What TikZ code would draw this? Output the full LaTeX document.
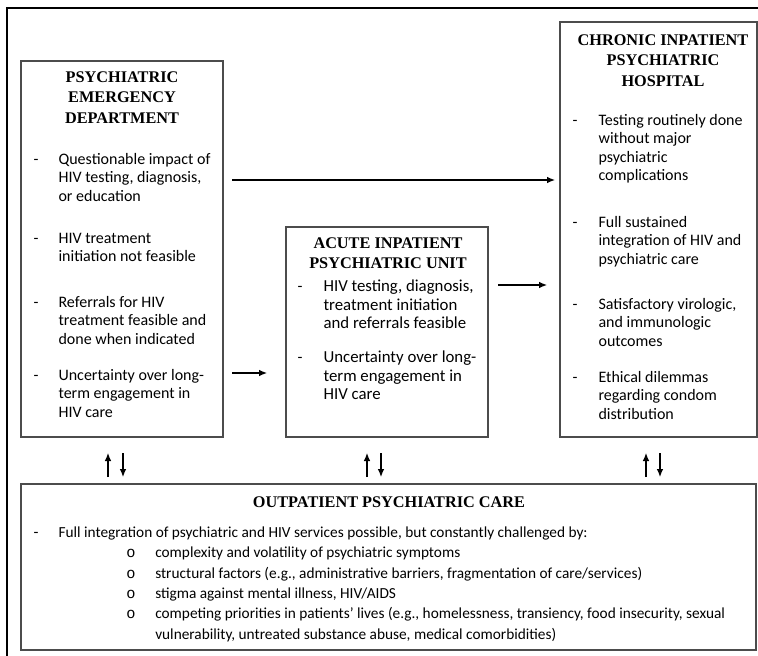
\documentclass[tikz,border=0pt]{standalone}
\usepackage{fontspec}
\setmainfont{Liberation Serif}
\newfontfamily\bodyfam{Carlito}
\newfontfamily\monofam{Liberation Mono}
\usetikzlibrary{arrows.meta}
\newcommand\mylines[1]{\begin{tabular}[t]{@{}l@{}}#1\end{tabular}}
\newcommand\myhead[1]{\begin{tabular}[t]{@{}c@{}}#1\end{tabular}}
\tikzset{
  box/.style={draw=black!70, line width=1pt, inner sep=0pt, outer sep=0pt, anchor=north west},
  hd/.style={font=\fontsize{12.2}{15.4}\selectfont\bfseries, anchor=base, inner sep=0pt},
  txt/.style={font=\bodyfam\fontsize{12}{13.8}\selectfont, anchor=base west, inner sep=0pt},
  txta/.style={font=\bodyfam\fontsize{12.6}{13.8}\selectfont, anchor=base west, inner sep=0pt},
  txto/.style={font=\bodyfam\fontsize{11.5}{15.3}\selectfont, anchor=base west, inner sep=0pt},
  dsh/.style={font=\bodyfam\fontsize{12}{13.8}\selectfont, anchor=base, inner sep=0pt},
  circ/.style={font=\monofam\fontsize{11.5}{15.3}\selectfont, anchor=base, inner sep=0pt},
  arr/.style={line width=0.9pt, -{Latex[length=6pt,width=5pt]}},
  framel/.style={line width=1.1pt}
}
\begin{document}
\begin{tikzpicture}[x=0.75pt,y=-0.75pt]
\useasboundingbox (0,0) rectangle (758,656);
% outer frame (cropped)
\draw[framel] (7,656) -- (7,8) -- (758,8);

% boxes
\node[box, minimum width=151.5pt, minimum height=282pt] (ed) at (21,61) {};
\node[box, minimum width=151.5pt, minimum height=157.5pt] (ac) at (286,227) {};
\node[box, minimum width=147.75pt, minimum height=311.25pt] (ch) at (560,22) {};
\node[box, minimum width=551.25pt, minimum height=124.5pt] (op) at (21,484) {};

% Emergency department
\node[hd] (edh) at (122,82.3) {\myhead{PSYCHIATRIC\\EMERGENCY\\DEPARTMENT}};
\node[dsh] (edd1) at (36,164.5) {-};
\node[txt] (edt1) at (58.3,164.5) {\mylines{Questionable impact of\\HIV testing, diagnosis,\\or education}};
\node[dsh] (edd2) at (36,243.5) {-};
\node[txt] (edt2) at (58.3,243.5) {\mylines{HIV treatment\\initiation not feasible}};
\node[dsh] (edd3) at (36,307.5) {-};
\node[txt] (edt3) at (58.3,307.5) {\mylines{Referrals for HIV\\treatment feasible and\\done when indicated}};
\node[dsh] (edd4) at (36,380.5) {-};
\node[txt] (edt4) at (58.3,380.5) {\mylines{Uncertainty over long-\\term engagement in\\HIV care}};

% Acute inpatient
\node[hd] (ach) at (388,248.3) {\myhead{ACUTE INPATIENT\\PSYCHIATRIC UNIT}};
\node[dsh] (acd1) at (300,292) {-};
\node[txta] (act1) at (323.3,292) {\mylines{HIV testing, diagnosis,\\treatment initiation\\and referrals feasible}};
\node[dsh] (acd2) at (300,363) {-};
\node[txta] (act2) at (323.3,363) {\mylines{Uncertainty over long-\\term engagement in\\HIV care}};

% Chronic inpatient
\node[hd] (chh) at (663,45.3) {\myhead{CHRONIC INPATIENT\\PSYCHIATRIC\\HOSPITAL}};
\node[dsh] (chd1) at (575,125.5) {-};
\node[txt] (cht1) at (598.3,125.5) {\mylines{Testing routinely done\\without major\\psychiatric\\complications}};
\node[dsh] (chd2) at (575,227.5) {-};
\node[txt] (cht2) at (598.3,227.5) {\mylines{Full sustained\\integration of HIV and\\psychiatric care}};
\node[dsh] (chd3) at (575,309.5) {-};
\node[txt] (cht3) at (598.3,309.5) {\mylines{Satisfactory virologic,\\and immunologic\\outcomes}};
\node[dsh] (chd4) at (575,382.5) {-};
\node[txt] (cht4) at (598.3,382.5) {\mylines{Ethical dilemmas\\regarding condom\\distribution}};

% Outpatient
\node[hd] (oph) at (389,508) {OUTPATIENT PSYCHIATRIC CARE};
\node[dsh] (opd) at (36,537.3) {-};
\node[txto] (opt) at (58.3,537.3) {Full integration of psychiatric and HIV services possible, but constantly challenged by:};
\node[circ] (opc1) at (131,557.7) {o};
\node[txto] (ops1) at (155,557.7) {complexity and volatility of psychiatric symptoms};
\node[circ] (opc2) at (131,578.1) {o};
\node[txto] (ops2) at (155,578.1) {structural factors (e.g., administrative barriers, fragmentation of care/services)};
\node[circ] (opc3) at (131,598.5) {o};
\node[txto] (ops3) at (155,598.5) {stigma against mental illness, HIV/AIDS};
\node[circ] (opc4) at (131,618.9) {o};
\node[txto] (ops4) at (155,618.9) {\mylines{competing priorities in patients’ lives (e.g., homelessness, transiency, food insecurity, sexual\\vulnerability, untreated substance abuse, medical comorbidities)}};

% horizontal arrows
\coordinate (a1s) at (232,180);
\coordinate (a1e) at (555,180);
\coordinate (a2s) at (232,373);
\coordinate (a2e) at (267,373);
\coordinate (a3s) at (498,285);
\coordinate (a3e) at (547,285);
\draw[arr] (a1s) -- (a1e);
\draw[arr] (a2s) -- (a2e);
\draw[arr] (a3s) -- (a3e);

% vertical arrow pairs
\coordinate (v1a) at (108,477);
\coordinate (v1b) at (108,453);
\coordinate (v2a) at (123,453);
\coordinate (v2b) at (123,477);
\coordinate (v3a) at (367,477);
\coordinate (v3b) at (367,453);
\coordinate (v4a) at (381,453);
\coordinate (v4b) at (381,477);
\coordinate (v5a) at (646,477);
\coordinate (v5b) at (646,453);
\coordinate (v6a) at (660,453);
\coordinate (v6b) at (660,477);
\draw[arr] (v1a) -- (v1b);
\draw[arr] (v2a) -- (v2b);
\draw[arr] (v3a) -- (v3b);
\draw[arr] (v4a) -- (v4b);
\draw[arr] (v5a) -- (v5b);
\draw[arr] (v6a) -- (v6b);
\end{tikzpicture}
\end{document}
